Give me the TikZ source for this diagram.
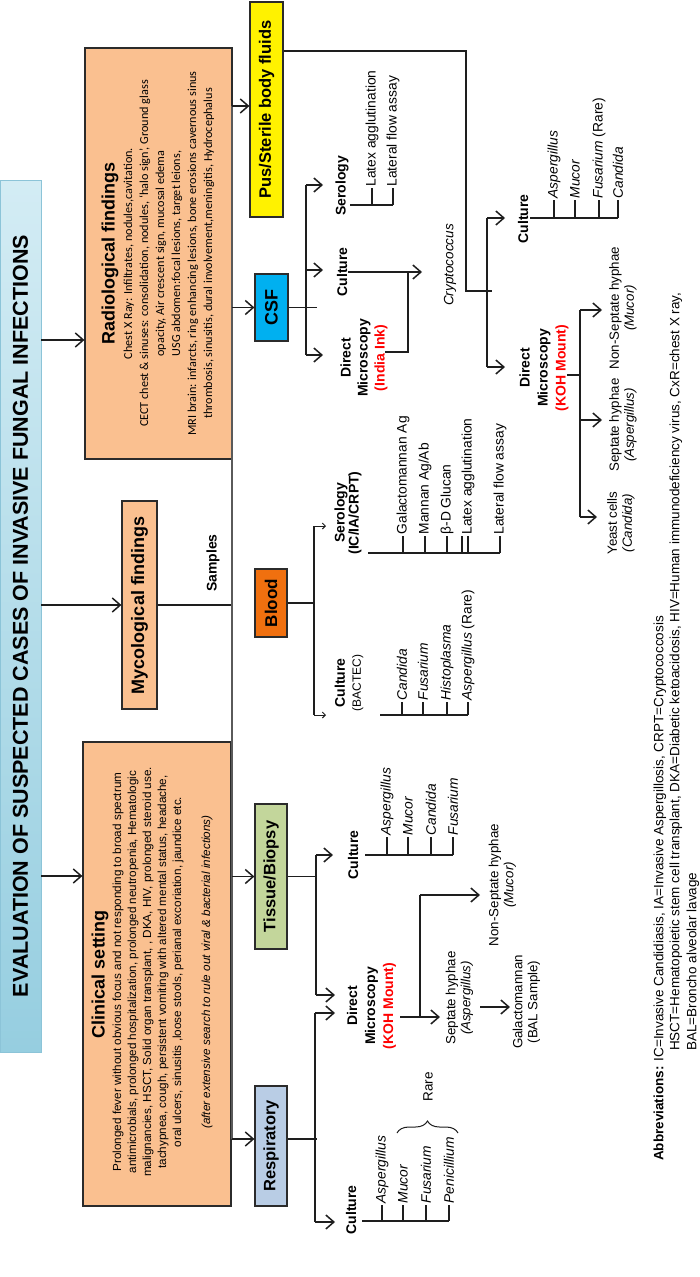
\documentclass[tikz,border=0pt]{standalone}
\usepackage{fontspec}
\setmainfont{Liberation Sans}
\newfontfamily\carlito{Carlito}
\usetikzlibrary{arrows.meta,decorations.pathreplacing}
\newcommand\myfs[2]{\fontsize{#1}{#2}\selectfont}
\definecolor{peach}{HTML}{FAC090}
\definecolor{boxline}{HTML}{2B2B2B}
\definecolor{lin}{HTML}{1E1E1E}
\definecolor{busc}{HTML}{5A5A5A}
\definecolor{csfc}{HTML}{00B0F0}
\definecolor{bloodc}{HTML}{F0700F}
\definecolor{tissc}{HTML}{C3D69B}
\definecolor{respc}{HTML}{B9CDE5}
\definecolor{tlight}{HTML}{D3ECF4}
\definecolor{tdark}{HTML}{96CEE0}
\definecolor{tborder}{HTML}{8CC4D8}
\definecolor{kohred}{HTML}{FF0000}
\begin{document}
\begin{tikzpicture}[x=1pt,y=-1pt,
  box/.style={draw=boxline, line width=1.2pt, rotate=90, inner sep=0pt},
  rot/.style={rotate=90, inner sep=1pt},
  lab/.style={rot, font=\myfs{14}{17}\bfseries, align=center},
  dm/.style={rot, font=\myfs{14}{18}\bfseries, align=center},
  leaf/.style={rot, anchor=west, inner sep=1pt, font=\myfs{13.8}{15}\itshape},
  leafn/.style={rot, anchor=west, inner sep=1pt, font=\myfs{13.8}{15}},
  two/.style={rot, align=center, font=\myfs{13.3}{15}},
  conn/.style={draw=lin, line width=1.5pt},
  busl/.style={draw=busc, line width=1.8pt},
  arr/.style={conn, -{Straight Barb[length=8pt,width=14pt]}},
  arrs/.style={draw=lin, line width=1pt, -{Straight Barb[length=3pt,width=6pt]}},
  tick/.style={draw=lin, line width=1.2pt},
]
\useasboundingbox (0,0) rectangle (700,1277);
\fill[white] (0,0) rectangle (700,1277);

% ---------- title ----------
\node[rot, inner sep=0pt, minimum width=872pt, minimum height=41pt, top color=tlight, bottom color=tdark, draw=tborder, line width=0.8pt, font=\myfs{21.5}{24}\bfseries] (tbox) at (20.5,616) {EVALUATION OF SUSPECTED CASES OF INVASIVE FUNGAL INFECTIONS};

% ---------- first level boxes ----------
\node[box, fill=peach, minimum width=411pt, minimum height=147pt] (rad) at (158.5,253.5) {};
\node[rot, font=\myfs{18}{20}\bfseries] (radT) at (110,253.5) {Radiological findings};
\node[rot, font=\carlito\myfs{12.2}{16}, align=center] (radB) at (169,253.5) {Chest  X Ray: Infiltrates, nodules,cavitation.\\
CECT chest \& sinuses: consolidation, nodules, ‘halo sign’, Ground glass\\
opacity, Air crescent sign, mucosal edema\\
USG abdomen:focal lesions, target leions,\\
MRI  brain: infarcts, ring enhancing lesions, bone erosions cavernous sinus\\
thrombosis, sinusitis, dural involvement,meningitis,  Hydrocephalus};

\node[box, fill=peach, minimum width=208pt, minimum height=35pt, font=\myfs{18}{20}\bfseries] (myc) at (139.5,605) {Mycological findings};

\node[box, fill=peach, minimum width=464pt, minimum height=148pt] (clin) at (157,974) {};
\node[rot, font=\myfs{18}{20}\bfseries] (clinT) at (100,974) {Clinical setting};
\node[rot, font=\myfs{11.7}{15}, align=center] (clinB) at (162.5,972) {Prolonged fever without obvious focus and not responding to broad spectrum\\
antimicrobials, prolonged hospitalization, prolonged neutropenia,  Hematologic\\
malignancies, HSCT, Solid organ transplant, , DKA, HIV, prolonged steroid use.\\
tachypnea, cough, persistent vomiting  with altered mental status, headache,\\
oral ulcers, sinusitis ,loose stools, perianal excoriation, jaundice etc.\\[14pt]
\textit{(after extensive search to rule out viral \& bacterial infections)}};

\coordinate (t1) at (41,340);
\coordinate (t3) at (41,876);
\draw[arr] (t1) -- (t1 -| rad.north);
\draw[arr] (myc.north -| tbox.south) -- (myc.north);
\draw[arr] (t3) -- (t3 -| clin.north);

% ---------- samples bus ----------
\coordinate (b1) at (232,106);
\coordinate (b2) at (232,1139);
\draw[conn] (myc.south) -- (myc.south -| b1);
\node[rot, font=\myfs{14}{16}\bfseries] (samp) at (213,563) {Samples};
\draw[busl] (b1) -- (b2);

\node[box, fill=yellow, minimum width=215pt, minimum height=33pt, font=\myfs{16.5}{18}\bfseries] (pus) at (266.5,109.5) {Pus/Sterile body fluids};
\node[box, fill=csfc, minimum width=67pt, minimum height=33pt, font=\myfs{18}{20}\bfseries] (csf) at (271.5,307.5) {CSF};
\node[box, fill=bloodc, minimum width=68pt, minimum height=32pt, font=\myfs{17}{20}\bfseries] (blood) at (271,603) {Blood};
\node[box, fill=tissc, minimum width=145pt, minimum height=32pt, font=\myfs{16.5}{20}\bfseries] (tissue) at (271,876.5) {Tissue/Biopsy};
\node[box, fill=respc, minimum width=120pt, minimum height=32pt, font=\myfs{16.5}{20}\bfseries] (resp) at (271,1146) {Respiratory};

\draw[arr] (b1) -- (b1 -| pus.north);
\draw[arr] (csf.north -| b1) -- (csf.north);
\draw[arr] (tissue.north -| b1) -- (tissue.north);
\draw[arr] (b2) -- (b2 -| resp.north);

% ---------- Pus branch ----------
\coordinate (p1) at (466,51);
\coordinate (p2) at (466,291);
\coordinate (p3) at (492,291);
\draw[conn] (pus.south |- p1) -- (p1) -- (p2) -- (p3);
\coordinate (pv1) at (487,218);
\coordinate (pv2) at (487,367);
\draw[conn] (pv1) -- (pv2);
\coordinate (pa1) at (505,218);
\coordinate (pa2) at (505,367);
\draw[arr] (pv1) -- (pa1);
\draw[arr] (pv2) -- (pa2);
\node[lab] (pusCul) at (523,219) {Culture};
\node[dm] (pusDM) at (544,368) {Direct\\Microscopy\\\textcolor{kohred}{(KOH Mount)}};
\draw[conn] (530,218) -- (618,218);
\draw[tick] (554,218) -- (554,200) node[leaf] (pl1) {Aspergillus};
\draw[tick] (575,218) -- (575,200) node[leaf] (pl2) {Mucor};
\draw[tick] (599,218) -- (599,200) node[leaf] (pl3) {Fusarium \textup{(Rare)}};
\draw[tick] (618,218) -- (618,200) node[leaf] (pl4) {Candida};
\coordinate (pj0) at (567,375);
\coordinate (pj) at (580,375);
\draw[conn] (pj0) -- (pj);
\coordinate (pk1) at (580,310);
\coordinate (pk2) at (580,420);
\coordinate (pk3) at (580,517);
\draw[conn] (pk1) -- (pk3);
\draw[arr] (pk1) -- (602,310);
\draw[arr] (pk2) -- (602,420);
\draw[arr] (pk3) -- (597,517);
\node[two] (ns1) at (623,308) {Non-Septate hyphae\\\textit{(Mucor)}};
\node[two] (s1) at (623,425) {Septate hyphae\\\textit{(Aspergillus)}};
\node[two] (y1) at (621,523) {Yeast cells\\\textit{(Candida)}};

% ---------- CSF branch ----------
\draw[conn] (csf.south) -- (317,307.5);
\draw[conn] (306,185) -- (306,355);
\draw[arr] (306,185) -- (323,185);
\draw[arr] (306,270) -- (323,270);
\draw[arr] (306,355) -- (323,355);
\node[lab] (csfSer) at (342,186) {Serology};
\node[lab] (csfCul) at (342,272) {Culture};
\node[rot, font=\myfs{14}{17}\bfseries, align=center] (csfDM) at (364,358) {Direct\\Microscopy\\\textcolor{kohred}{(India Ink)}};
\draw[conn] (350,205) -- (393,205);
\draw[tick] (372,205) -- (372,188) node[leafn] (cs1) {Latex agglutination};
\draw[tick] (393,205) -- (393,188) node[leafn] (cs2) {Lateral flow assay};
\draw[arr] (csfCul.south) -- (422,272);
\node[rot, font=\myfs{13.5}{15}\itshape] (crypt) at (450,265) {Cryptococcus};
\draw[conn] (385,352) -- (408,352) -- (408,272);

% ---------- Blood branch ----------
\draw[conn] (blood.south) -- (315,603);
\draw[conn] (314,526) -- (314,715);
\draw[arrs] (314,526) -- (326,526);
\draw[arrs] (314,715) -- (326,715);
\node[rot, font=\myfs{14}{14}\bfseries, align=center] (bSer) at (348,513) {Serology\\(IC/IA/CRPT)};
\node[rot, font=\myfs{14}{16}\bfseries, align=center] (bCul) at (349,683) {Culture\\\mdseries\myfs{12}{14}(BACTEC)};
\draw[conn] (380,715) -- (468,715);
\draw[tick] (402,715) -- (402,702) node[leaf] (bc1) {Candida};
\draw[tick] (423,715) -- (423,702) node[leaf] (bc2) {Fusarium};
\draw[tick] (447,715) -- (447,702) node[leaf] (bc3) {Histoplasma};
\draw[tick] (468,715) -- (468,702) node[leaf] (bc4) {Aspergillus \textup{(Rare)}};
\draw[conn] (368,553) -- (500,553);
\draw[tick] (403,553) -- (403,536) node[leafn] (bs1) {Galactomannan Ag};
\draw[tick] (425,553) -- (425,536) node[leafn] (bs2) {Mannan Ag/Ab};
\draw[tick] (447,553) -- (447,536) node[leafn] (bs3) {β-D Glucan};
\draw[tick] (462,553) -- (462,536);
\draw[tick] (468,553) -- (468,536) node[leafn] (bs4) {Latex agglutination};
\draw[tick] (500,553) -- (500,536) node[leafn] (bs5) {Lateral flow assay};

% ---------- Tissue branch ----------
\draw[conn] (tissue.south) -- (317,876.5);
\draw[conn] (316,855) -- (316,995);
\draw[arr] (316,855) -- (333,855);
\draw[arr] (316,995) -- (335,995);
\node[lab] (tCul) at (353,855) {Culture};
\draw[conn] (365,855) -- (453,855);
\draw[tick] (387,855) -- (387,837) node[leaf] (tc1) {Aspergillus};
\draw[tick] (408,855) -- (408,837) node[leaf] (tc2) {Mucor};
\draw[tick] (431,855) -- (431,837) node[leaf] (tc3) {Candida};
\draw[tick] (453,855) -- (453,837) node[leaf] (tc4) {Fusarium};

% ---------- Respiratory branch ----------
\draw[conn] (resp.south |- b2) -- (317,1139);
\draw[conn] (315,1013) -- (315,1222);
\draw[arr] (315,1013) -- (335,1013);
\draw[arr] (315,1222) -- (335,1222);
\node[dm] (kDM) at (371.5,1006) {Direct\\Microscopy\\\textcolor{kohred}{(KOH Mount)}};
\node[lab] (rCul) at (351,1210) {Culture};
\draw[conn] (362,1221) -- (449,1221);
\draw[tick] (382,1221) -- (382,1205) node[leaf] (rc1) {Aspergillus};
\draw[tick] (403,1221) -- (403,1205) node[leaf] (rc2) {Mucor};
\draw[tick] (426,1221) -- (426,1205) node[leaf] (rc3) {Fusarium};
\draw[tick] (449,1221) -- (449,1205) node[leaf] (rc4) {Penicillium};
\draw[draw=lin, line width=1pt, decorate, decoration={brace, amplitude=12pt}] (397,1133) -- (458,1133);
\node[rot, font=\myfs{13.5}{15}] (rare) at (428,1087) {Rare};

% ---------- KOH outputs ----------
\coordinate (k0) at (400,1017);
\coordinate (kj) at (420,1017);
\coordinate (kt) at (420,895);
\draw[arr] (k0) -- (440,1017);
\draw[conn] (kj) -- (kt);
\draw[arr] (kt) -- (480,895);
\node[two] (s2) at (459.5,998) {Septate hyphae\\\textit{(Aspergillus)}};
\node[two] (ns2) at (502.5,885) {Non-Septate hyphae\\\textit{(Mucor)}};
\draw[arr] (480,1007) -- (510,1007);
\node[two] (gal) at (526.5,1002) {Galactomannan\\(BAL Sample)};

% ---------- abbreviations ----------
\node[rot, anchor=west, font=\myfs{13.5}{15}] (ab1) at (660,1162) {\textbf{Abbreviations:} IC=Invasive Candidiasis, IA=Invasive Aspergillosis, CRPT=Cryptococcosis};
\node[rot, anchor=west, font=\myfs{13.5}{15}] (ab2) at (676,1052) {HSCT=Hematopoietic stem cell transplant, DKA=Diabetic ketoacidosis, HIV=Human immunodeficiency virus, CxR=chest X ray,};
\node[rot, anchor=west, font=\myfs{13.5}{15}] (ab3) at (693,1052) {BAL=Broncho alveolar lavage};
\end{tikzpicture}
\end{document}
